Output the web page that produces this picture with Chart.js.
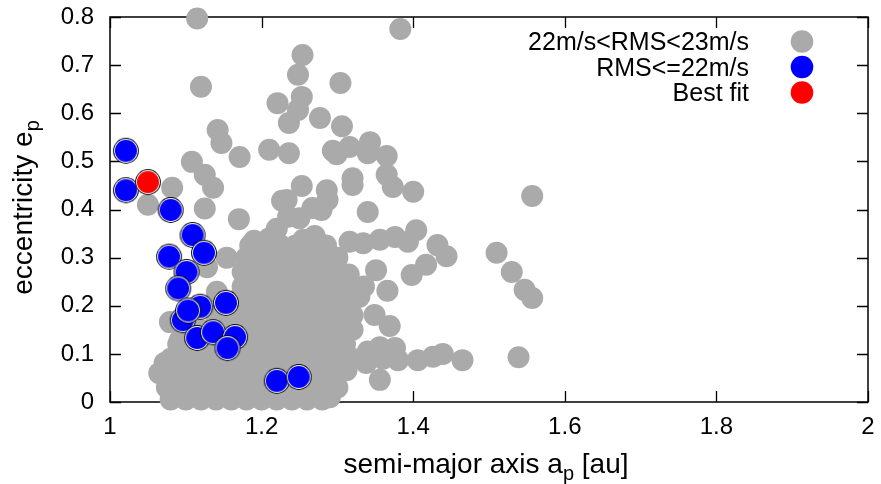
<!DOCTYPE html>
<html><head><meta charset="utf-8">
<script src="https://cdn.jsdelivr.net/npm/chart.js@4.4.0/dist/chart.umd.min.js"></script>
<style>html,body{margin:0;padding:0;background:#fff}canvas{display:block}</style>
</head><body>
<canvas id="c" width="881" height="484"></canvas>
<script>
const xTicks = [1, 1.2, 1.4, 1.6, 1.8, 2];
const yTicks = [0, 0.1, 0.2, 0.3, 0.4, 0.5, 0.6, 0.7, 0.8];
const seriesLabels = ['22m/s<RMS<23m/s', 'RMS<=22m/s', 'Best fit'];
const seriesColors = ['#aaaaaa', '#0000ff', '#ff0000'];

const grayPoints = [
  [1.115,0.797],[1.383,0.775],[1.12,0.655],
  [1.254,0.721],[1.248,0.68],[1.304,0.663],[1.253,0.634],[1.221,0.621],[1.248,0.607],[1.236,0.58],[1.277,0.59],[1.306,0.573],
  [1.142,0.565],[1.147,0.538],[1.171,0.509],[1.21,0.524],[1.236,0.517],[1.294,0.522],[1.316,0.53],[1.343,0.54],[1.34,0.517],[1.365,0.511],[1.299,0.515],
  [1.108,0.499],[1.125,0.472],[1.136,0.445],[1.082,0.445],[1.05,0.41],[1.253,0.449],[1.227,0.418],[1.125,0.402],[1.286,0.44],[1.287,0.42],[1.267,0.403],[1.279,0.399],[1.233,0.42],[1.235,0.385],
  [1.32,0.465],[1.32,0.451],[1.365,0.472],[1.373,0.447],[1.4,0.437],[1.557,0.428],[1.34,0.395],
  [1.17,0.38],[1.22,0.36],[1.25,0.382],[1.19,0.335],[1.21,0.34],[1.255,0.337],[1.27,0.345],
  [1.404,0.357],[1.393,0.333],[1.376,0.343],[1.356,0.337],[1.334,0.33],[1.316,0.333],[1.432,0.326],[1.444,0.303],[1.417,0.285],[1.398,0.264],[1.351,0.274],[1.366,0.231],[1.329,0.219],[1.349,0.181],[1.369,0.158],
  [1.51,0.31],[1.53,0.27],[1.547,0.233],[1.557,0.216],[1.539,0.093],
  [1.465,0.087],[1.439,0.1],[1.426,0.094],[1.406,0.087],[1.38,0.087],[1.376,0.112],[1.356,0.046],[1.338,0.081],[1.312,0.066],[1.34,0.105],[1.356,0.114],[1.36,0.09],
  [1.079,0.166],[1.072,0.081],[1.092,0.128],[1.128,0.28],[1.141,0.229],[1.154,0.3],
  [1.08,0.005],[1.10,0.005],[1.12,0.005],[1.14,0.005],[1.16,0.005],[1.18,0.005],[1.20,0.005],[1.22,0.005],[1.24,0.005],[1.26,0.005],[1.28,0.005],[1.29,0.01],
  [1.075,0.03],[1.095,0.03],[1.115,0.03],[1.135,0.03],[1.155,0.03],[1.175,0.03],[1.195,0.03],[1.215,0.03],[1.235,0.03],[1.255,0.03],[1.275,0.03],[1.30,0.03],
  [1.065,0.06],[1.085,0.06],[1.105,0.06],[1.125,0.06],[1.145,0.06],[1.165,0.06],[1.185,0.06],[1.205,0.06],[1.225,0.06],[1.245,0.06],[1.265,0.06],[1.285,0.06],[1.30,0.06],
  [1.08,0.09],[1.10,0.09],[1.12,0.09],[1.14,0.09],[1.16,0.09],[1.18,0.09],[1.20,0.09],[1.22,0.09],[1.24,0.09],[1.26,0.09],[1.28,0.09],[1.30,0.09],[1.32,0.09],
  [1.09,0.12],[1.11,0.12],[1.13,0.12],[1.15,0.12],[1.17,0.12],[1.19,0.12],[1.21,0.12],[1.23,0.12],[1.25,0.12],[1.27,0.12],[1.29,0.12],[1.31,0.12],
  [1.10,0.15],[1.12,0.15],[1.14,0.15],[1.16,0.15],[1.18,0.15],[1.20,0.15],[1.22,0.15],[1.24,0.15],[1.26,0.15],[1.28,0.15],[1.30,0.15],[1.32,0.15],
  [1.14,0.18],[1.16,0.18],[1.18,0.18],[1.20,0.18],[1.22,0.18],[1.24,0.18],[1.26,0.18],[1.28,0.18],[1.30,0.18],[1.32,0.18],
  [1.165,0.21],[1.185,0.21],[1.205,0.21],[1.225,0.21],[1.245,0.21],[1.265,0.21],[1.285,0.21],[1.305,0.21],[1.32,0.21],
  [1.175,0.24],[1.195,0.24],[1.215,0.24],[1.235,0.24],[1.255,0.24],[1.275,0.24],[1.295,0.24],[1.315,0.24],[1.335,0.24],
  [1.175,0.27],[1.195,0.27],[1.215,0.27],[1.235,0.27],[1.255,0.27],[1.275,0.27],[1.295,0.27],[1.315,0.265],
  [1.18,0.30],[1.20,0.30],[1.22,0.30],[1.24,0.30],[1.26,0.30],[1.28,0.30],[1.30,0.30],
  [1.185,0.325],[1.205,0.325],[1.225,0.325],[1.245,0.325],[1.265,0.325],[1.285,0.325]
];

const bluePoints = [
  [1.021,0.522],[1.021,0.44],[1.08,0.399],[1.109,0.347],[1.124,0.31],[1.078,0.302],[1.101,0.27],[1.09,0.236],
  [1.119,0.198],[1.153,0.206],[1.096,0.17],[1.103,0.19],[1.115,0.133],[1.136,0.145],[1.165,0.135],[1.155,0.112],
  [1.22,0.044],[1.249,0.052]
];

const redPoints = [[1.05,0.457]];

function ringMarker(fill) {
  const c = document.createElement('canvas');
  c.width = 28; c.height = 28;
  const g = c.getContext('2d');
  const disk = (r, col) => { g.beginPath(); g.arc(14, 14, r, 0, Math.PI * 2); g.fillStyle = col; g.fill(); };
  disk(12.9, '#000000');
  disk(11.9, '#ffffff');
  disk(11.0, fill);
  return c;
}

const toXY = arr => arr.map(p => ({x: p[0], y: p[1]}));
const FONT = "'Liberation Sans', Arial, Helvetica, sans-serif";

const decorPlugin = {
  id: 'decor',
  beforeDatasetsDraw(chart) {
    const {ctx, chartArea: a, scales: {x, y}} = chart;
    ctx.save();
    ctx.strokeStyle = '#000';
    ctx.lineWidth = 1.5;
    ctx.strokeRect(a.left, a.top, a.right - a.left, a.bottom - a.top);
    ctx.lineWidth = 1.3;
    const L = 11;
    ctx.beginPath();
    xTicks.forEach(v => {
      const px = Math.round(x.getPixelForValue(v)) + 0.5;
      ctx.moveTo(px, a.bottom); ctx.lineTo(px, a.bottom - L);
      ctx.moveTo(px, a.top); ctx.lineTo(px, a.top + L);
    });
    yTicks.forEach(v => {
      const py = Math.round(y.getPixelForValue(v)) + 0.5;
      ctx.moveTo(a.left, py); ctx.lineTo(a.left + L, py);
      ctx.moveTo(a.right, py); ctx.lineTo(a.right - L, py);
    });
    ctx.stroke();
    ctx.restore();
  },
  afterDraw(chart) {
    const {ctx, chartArea: a} = chart;
    ctx.save();
    ctx.fillStyle = '#000';
    const big = '28px ' + FONT, small = '20px ' + FONT;
    const xt1 = 'semi-major axis a', xs = 'p', xt2 = ' [au]';
    ctx.font = big; const w1 = ctx.measureText(xt1).width, w3 = ctx.measureText(xt2).width;
    ctx.font = small; const w2 = ctx.measureText(xs).width;
    let sx = (a.left + a.right) / 2 - (w1 + w2 + w3) / 2 - 3;
    const by = 473;
    ctx.textBaseline = 'alphabetic'; ctx.textAlign = 'left';
    ctx.font = big; ctx.fillText(xt1, sx, by);
    ctx.font = small; ctx.fillText(xs, sx + w1, by + 7);
    ctx.font = big; ctx.fillText(xt2, sx + w1 + w2, by);
    const yt1 = 'eccentricity e', ys = 'p';
    ctx.font = big; const v1 = ctx.measureText(yt1).width;
    ctx.font = small; const v2 = ctx.measureText(ys).width;
    ctx.translate(32, (a.top + a.bottom) / 2 - 2);
    ctx.rotate(-Math.PI / 2);
    const sy = -(v1 + v2) / 2;
    ctx.font = big; ctx.fillText(yt1, sy, 0);
    ctx.font = small; ctx.fillText(ys, sy + v1, 7);
    ctx.setTransform(1, 0, 0, 1, 0, 0);
    const rows = [50, 75.5, 101];
    ctx.font = '25px ' + FONT;
    ctx.textAlign = 'right';
    seriesLabels.forEach((lab, i) => {
      ctx.fillStyle = '#000';
      ctx.fillText(lab, 749, rows[i]);
      ctx.beginPath();
      ctx.arc(802, rows[i] - 8.5, 11.3, 0, Math.PI * 2);
      ctx.fillStyle = seriesColors[i];
      ctx.fill();
    });
    ctx.restore();
  }
};

new Chart(document.getElementById('c'), {
  type: 'scatter',
  data: {
    datasets: [
      {label: seriesLabels[2], data: toXY(redPoints), pointStyle: ringMarker(seriesColors[2]), pointRadius: 12, clip: false, order: 1},
      {label: seriesLabels[1], data: toXY(bluePoints), pointStyle: ringMarker(seriesColors[1]), pointRadius: 12, clip: false, order: 2},
      {label: seriesLabels[0], data: toXY(grayPoints), pointStyle: 'circle', pointRadius: 11, borderWidth: 0,
       backgroundColor: seriesColors[0], borderColor: seriesColors[0], clip: false, order: 3}
    ]
  },
  options: {
    responsive: false,
    animation: false,
    events: [],
    layout: {padding: {top: 17, right: 12, left: 0, bottom: 0}},
    plugins: {legend: {display: false}, tooltip: {enabled: false}},
    scales: {
      x: {
        type: 'linear', min: 1, max: 2,
        afterBuildTicks: s => { s.ticks = xTicks.map(v => ({value: v})); },
        afterFit: s => { s.height = 82; s.paddingLeft = 0; s.paddingRight = 0; },
        grid: {display: false, drawTicks: false},
        border: {display: false},
        ticks: {color: '#000', font: {family: FONT, size: 24}, padding: 11, maxRotation: 0, callback: v => String(v)}
      },
      y: {
        type: 'linear', min: 0, max: 0.8,
        afterBuildTicks: s => { s.ticks = yTicks.map(v => ({value: v})); },
        afterFit: s => { s.width = 110; s.paddingTop = 0; s.paddingBottom = 0; },
        grid: {display: false, drawTicks: false},
        border: {display: false},
        ticks: {color: '#000', font: {family: FONT, size: 24}, padding: 16, callback: v => String(v)}
      }
    }
  },
  plugins: [decorPlugin]
});
</script>
</body></html>
